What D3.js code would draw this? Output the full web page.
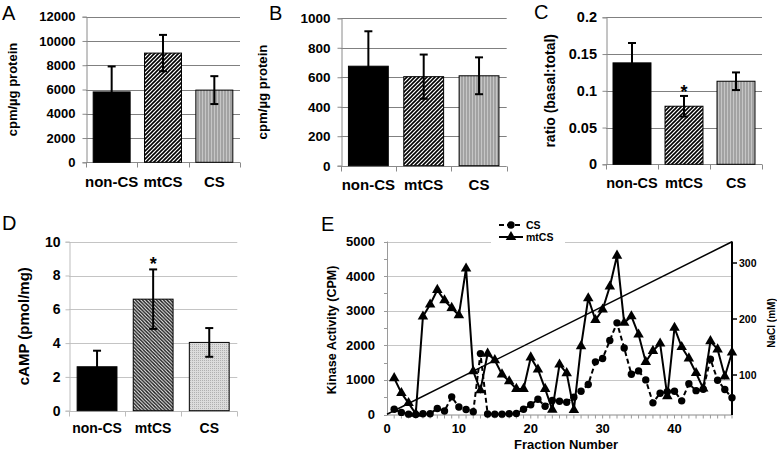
<!DOCTYPE html>
<html><head><meta charset="utf-8">
<script src="https://cdn.jsdelivr.net/npm/d3@7"></script>
<style>
body{margin:0;background:#fff;}
svg{display:block;font-family:"Liberation Sans",Arial,Helvetica,sans-serif;}
</style></head><body>
<svg id="c" width="777" height="453"></svg>
<script>
// ---------------- DATA ----------------
const categories = ["non-CS", "mtCS", "CS"];

const aMeans = [5800, 9000, 5950];
const aErrs  = [2100, 1500, 1150];
const aTicks = [0, 2000, 4000, 6000, 8000, 10000, 12000];

const bMeans = [675, 604, 610];
const bErrs  = [237, 150, 125];
const bTicks = [0, 200, 400, 600, 800, 1000];

const cMeans = [0.138, 0.079, 0.113];
const cErrs  = [0.027, 0.014, 0.012];
const cTicks = [0, 0.05, 0.1, 0.15, 0.2];
const cTickLabels = ["0", "0.05", "0.1", "0.15", "0.2"];

const dMeans = [2.6, 6.6, 4.04];
const dErrs  = [0.95, 1.76, 0.85];
const dTicks = [0, 2, 4, 6, 8, 10];

const fractions = [1,2,3,4,5,6,7,8,9,10,11,12,13,14,15,16,17,18,19,20,21,22,23,24,
                   25,26,27,28,29,30,31,32,33,34,35,36,37,38,39,40,41,42,43,44,45,46,47,48];
const csKinase = [150,60,10,0,20,20,175,100,510,215,146,80,1760,15,10,10,20,30,150,280,440,240,405,385,
                  356,501,674,867,1522,1618,2139,2649,1920,1165,1260,1000,337,615,660,670,395,890,690,730,1600,990,722,482];
const mtcsKinase = [1050,620,330,20,2830,3180,3600,3300,3080,2870,4220,1250,700,1760,1570,1160,960,740,740,1650,1300,740,140,1445,
                    1195,130,1975,3360,2730,3035,3700,4590,2650,2840,2310,1520,1840,2050,530,2505,1950,1620,1200,750,2120,1880,1100,1790];
const eLeftTicks = [0, 1000, 2000, 3000, 4000, 5000];
const eRightTicks = [100, 200, 300];
const eXTicks = [0, 10, 20, 30, 40];
const gradientFrac = [0, 48];
const gradientNaCl = [30, 338];

// ---------------- DRAW ----------------
const svg = d3.select("#c");
const defs = svg.append("defs");

function pat(id, w, h, build){
  const p = defs.append("pattern").attr("id", id).attr("patternUnits","userSpaceOnUse").attr("width", w).attr("height", h);
  build(p);
}
pat("hatch", 4, 4, p => {
  p.append("rect").attr("width",4).attr("height",4).attr("fill","#fff");
  p.append("path").attr("d","M-1,1 l2,-2 M0,4 l4,-4 M3,5 l2,-2").attr("stroke","#000").attr("stroke-width",1.6);
});
pat("vstripe", 3, 3, p => {
  p.append("rect").attr("width",3).attr("height",3).attr("fill","#a2a2a2");
  p.append("rect").attr("x",1).attr("width",1).attr("height",3).attr("fill","#c6c6c6");
});
pat("hatchD", 3.5, 3.5, p => {
  p.append("rect").attr("width",3.5).attr("height",3.5).attr("fill","#fff");
  p.append("path").attr("d","M-1,2.5 l2,2 M0,0 l3.5,3.5 M2.5,-1 l2,2").attr("stroke","#1a1a1a").attr("stroke-width",1.4);
});
pat("dots", 2, 2, p => {
  p.append("rect").attr("width",2).attr("height",2).attr("fill","#dcdcdc");
  p.append("rect").attr("width",1).attr("height",1).attr("fill","#b0b0b0");
});

function barPanel(o){
  const g = svg.append("g");
  const x = d3.scaleBand().domain(categories).range([o.x0, o.x1]).paddingInner(o.pad).paddingOuter(o.pad/2);
  const y = d3.scaleLinear().domain([0, o.max]).range([o.y0, o.y1]);
  g.selectAll(".grid").data(o.ticks.filter(t => t > 0)).join("line")
    .attr("x1", o.x0).attr("x2", o.x1)
    .attr("y1", d => Math.round(y(d)) + 0.5).attr("y2", d => Math.round(y(d)) + 0.5)
    .attr("stroke", o.grid).attr("stroke-width", 1);
  const ya = g.append("g").attr("transform", `translate(${Math.round(o.x0)+0.5},0)`)
    .call(d3.axisLeft(y).tickValues(o.ticks).tickSize(4).tickPadding(o.tpad)
      .tickFormat((d,i) => o.labels ? o.labels[i] : d));
  ya.select(".domain").attr("stroke", o.axis);
  ya.selectAll(".tick line").attr("stroke", o.axis);
  ya.selectAll(".tick text").attr("font-size", o.tfs).attr("font-weight","bold").attr("fill","#000")
    .attr("font-family", "Liberation Sans, Arial, sans-serif");
  const yb = Math.round(o.y0) + 0.5;
  g.append("line").attr("x1", o.x0).attr("x2", o.x1).attr("y1", yb).attr("y2", yb).attr("stroke", o.axis);
  g.selectAll(".xt").data(d3.range(categories.length + 1)).join("line")
    .attr("x1", i => Math.round(o.x0 + i * x.step()) + 0.5).attr("x2", i => Math.round(o.x0 + i * x.step()) + 0.5)
    .attr("y1", yb).attr("y2", yb + 5).attr("stroke", o.axis);
  g.selectAll(".bar").data(o.means).join("rect")
    .attr("x", (d,i) => x(categories[i])).attr("width", x.bandwidth())
    .attr("y", d => y(d)).attr("height", d => y(0) - y(d))
    .attr("fill", (d,i) => o.fills[i]).attr("stroke", "#000").attr("stroke-width", 1);
  const eb = g.selectAll(".err").data(o.means).join("g");
  eb.append("line")
    .attr("x1", (d,i) => x(categories[i]) + x.bandwidth()/2).attr("x2", (d,i) => x(categories[i]) + x.bandwidth()/2)
    .attr("y1", (d,i) => y(d - o.errs[i])).attr("y2", (d,i) => y(d + o.errs[i]))
    .attr("stroke", "#000").attr("stroke-width", 2);
  [1, -1].forEach(s => {
    eb.append("line")
      .attr("x1", (d,i) => x(categories[i]) + x.bandwidth()/2 - 4).attr("x2", (d,i) => x(categories[i]) + x.bandwidth()/2 + 4)
      .attr("y1", (d,i) => y(d + s*o.errs[i])).attr("y2", (d,i) => y(d + s*o.errs[i]))
      .attr("stroke", "#000").attr("stroke-width", 2);
  });
  g.selectAll(".cat").data(categories).join("text")
    .attr("x", d => x(d) + x.bandwidth()/2).attr("y", o.catY)
    .attr("text-anchor","middle").attr("font-size", o.cfs).attr("font-weight","bold").text(d => d);
  g.append("text").attr("transform", `translate(${o.titleX},${(o.y0+o.y1)/2}) rotate(-90)`)
    .attr("text-anchor","middle").attr("dominant-baseline","central")
    .attr("font-size", o.titleFs).attr("font-weight","bold").text(o.title);
  if (o.star !== undefined) {
    const i = o.star;
    g.append("text").attr("x", x(categories[i]) + x.bandwidth()/2).attr("y", y(o.means[i] + o.errs[i]) - o.starGap)
      .attr("text-anchor","middle").attr("font-size", 18).attr("font-weight","bold").text("*");
  }
  g.append("text").attr("x", o.lx).attr("y", o.ly).attr("font-size", 20).text(o.letter);
}

barPanel({x0:86, x1:240, y0:162.3, y1:16.7, max:12000, pad:0.28, ticks:aTicks, means:aMeans, errs:aErrs,
  fills:["#000","url(#hatch)","url(#vstripe)"], grid:"#808080", axis:"#8a8a8a", tfs:13, tpad:7,
  cfs:15, catY:187, title:"cpm/\u00b5g protein", titleX:12, titleFs:13, letter:"A", lx:2, ly:20});
barPanel({x0:340.7, x1:506.7, y0:165.7, y1:18.3, max:1000, pad:0.28, ticks:bTicks, means:bMeans, errs:bErrs,
  fills:["#000","url(#hatch)","url(#vstripe)"], grid:"#808080", axis:"#8a8a8a", tfs:13.5, tpad:7,
  cfs:15, catY:190, title:"cpm/\u00b5g protein", titleX:262, titleFs:13.2, letter:"B", lx:269, ly:19.5});
barPanel({x0:606, x1:762, y0:164.3, y1:17.3, max:0.2, pad:0.27, ticks:cTicks, labels:cTickLabels, means:cMeans, errs:cErrs,
  fills:["#000","url(#hatch)","url(#vstripe)"], grid:"#808080", axis:"#8a8a8a", tfs:14.5, tpad:5.5,
  cfs:14.5, catY:188, title:"ratio (basal:total)", titleX:550, titleFs:14, star:1, starGap:-2, letter:"C", lx:534, ly:18.5});
barPanel({x0:69, x1:237.3, y0:410.7, y1:241.7, max:10, pad:0.29, ticks:dTicks, means:dMeans, errs:dErrs,
  fills:["#000","url(#hatchD)","url(#dots)"], grid:"#c4c4c4", axis:"#bdbdbd", tfs:14, tpad:5,
  cfs:14, catY:433, title:"cAMP (pmol/mg)", titleX:23.5, titleFs:15, star:1, starGap:-1, letter:"D", lx:2, ly:230});

// ---------------- PANEL E ----------------
const E = svg.append("g");
const ex = d3.scaleLinear().domain([0, 48]).range([387, 732]);
const ey = d3.scaleLinear().domain([0, 5000]).range([414.5, 241.5]);
const er = d3.scaleLinear().domain([29.5, 338.4]).range([414.5, 241.5]);

E.selectAll(".eg").data(eLeftTicks.filter(t => t > 0)).join("line")
  .attr("x1", ex(0)).attr("x2", ex(48)).attr("y1", d => Math.round(ey(d))+0.5).attr("y2", d => Math.round(ey(d))+0.5)
  .attr("stroke", "#c6c6c6");
E.append("line").attr("x1", 387.5).attr("x2", 387.5).attr("y1", ey(5000)).attr("y2", ey(0)).attr("stroke", "#9a9a9a");
E.selectAll(".elt").data(d3.range(0, 5001, 500)).join("line")
  .attr("x1", 384).attr("x2", 387.5).attr("y1", d => Math.round(ey(d))+0.5).attr("y2", d => Math.round(ey(d))+0.5).attr("stroke", "#9a9a9a");
E.selectAll(".ell").data(eLeftTicks).join("text")
  .attr("x", 375).attr("y", d => ey(d) + 4.5).attr("text-anchor","end")
  .attr("font-size", 13).attr("font-weight","bold").text(d => d);
E.append("line").attr("x1", ex(0)).attr("x2", ex(48)).attr("y1", 415).attr("y2", 415).attr("stroke", "#8a8a8a");
E.selectAll(".ebt").data(fractions).join("line")
  .attr("x1", d => ex(d)).attr("x2", d => ex(d)).attr("y1", 415).attr("y2", 418.5).attr("stroke", "#9a9a9a");
E.selectAll(".ebl").data(eXTicks).join("text")
  .attr("x", d => ex(d)).attr("y", 433).attr("text-anchor","middle")
  .attr("font-size", 13).attr("font-weight","bold").text(d => d);
E.append("text").attr("x", 566).attr("y", 449).attr("text-anchor","middle")
  .attr("font-size", 13).attr("font-weight","bold").text("Fraction Number");
E.append("text").attr("transform", `translate(332,330) rotate(-90)`).attr("text-anchor","middle").attr("dominant-baseline","central")
  .attr("font-size", 12.5).attr("font-weight","bold").text("Kinase Activity (CPM)");
E.append("line").attr("x1", 732).attr("x2", 732).attr("y1", 241.5).attr("y2", 415).attr("stroke", "#000").attr("stroke-width", 2);
E.selectAll(".ert").data(eRightTicks).join("line")
  .attr("x1", 732).attr("x2", 737).attr("y1", d => er(d)).attr("y2", d => er(d)).attr("stroke", "#000").attr("stroke-width", 1.5);
E.selectAll(".erl").data(eRightTicks).join("text")
  .attr("x", 739).attr("y", d => er(d) + 4).attr("font-size", 10.5).attr("font-weight","bold").text(d => d);
E.append("text").attr("transform", `translate(771,323) rotate(-90)`).attr("text-anchor","middle").attr("dominant-baseline","central")
  .attr("font-size", 10).attr("font-weight","bold").text("NaCl (mM)");

E.append("path").datum(gradientFrac.map((f,i) => [f, gradientNaCl[i]]))
  .attr("d", d3.line().x(d => ex(d[0])).y(d => er(d[1])))
  .attr("fill","none").attr("stroke","#000").attr("stroke-width",1.5);

const lineK = d3.line().x(d => ex(d[0])).y(d => ey(d[1]));
const csPts = fractions.map((f,i) => [f, csKinase[i]]);
const mtPts = fractions.map((f,i) => [f, mtcsKinase[i]]);
E.append("path").datum(csPts).attr("d", lineK).attr("fill","none").attr("stroke","#000")
  .attr("stroke-width", 2).attr("stroke-dasharray","5,3");
E.append("path").datum(mtPts).attr("d", lineK).attr("fill","none").attr("stroke","#000").attr("stroke-width", 2);
E.selectAll(".cpt").data(csPts).join("circle").attr("cx", d => ex(d[0])).attr("cy", d => ey(d[1])).attr("r", 3.7).attr("fill","#000");
const tri = d3.symbol().type(d3.symbolTriangle).size(48);
E.selectAll(".tpt").data(mtPts).join("path").attr("d", tri)
  .attr("transform", d => `translate(${ex(d[0])},${ey(d[1])})`).attr("fill","#000");

const L = E.append("g");
L.append("rect").attr("x", 491).attr("y", 217).attr("width", 74).attr("height", 28).attr("fill","#fff");
L.append("line").attr("x1", 499).attr("x2", 523).attr("y1", 225).attr("y2", 225).attr("stroke","#000").attr("stroke-width",2).attr("stroke-dasharray","5,3");
L.append("circle").attr("cx", 511).attr("cy", 225).attr("r", 3.7).attr("fill","#000");
L.append("text").attr("x", 526).attr("y", 225).attr("dominant-baseline","central").attr("font-size", 10.5).attr("font-weight","bold").text("CS");
L.append("line").attr("x1", 499).attr("x2", 523).attr("y1", 237).attr("y2", 237).attr("stroke","#000").attr("stroke-width",2);
L.append("path").attr("d", tri).attr("transform","translate(511,237)").attr("fill","#000");
L.append("text").attr("x", 526).attr("y", 237).attr("dominant-baseline","central").attr("font-size", 10.5).attr("font-weight","bold").text("mtCS");

E.append("text").attr("x", 321).attr("y", 231).attr("font-size", 20).text("E");
</script>
</body></html>
